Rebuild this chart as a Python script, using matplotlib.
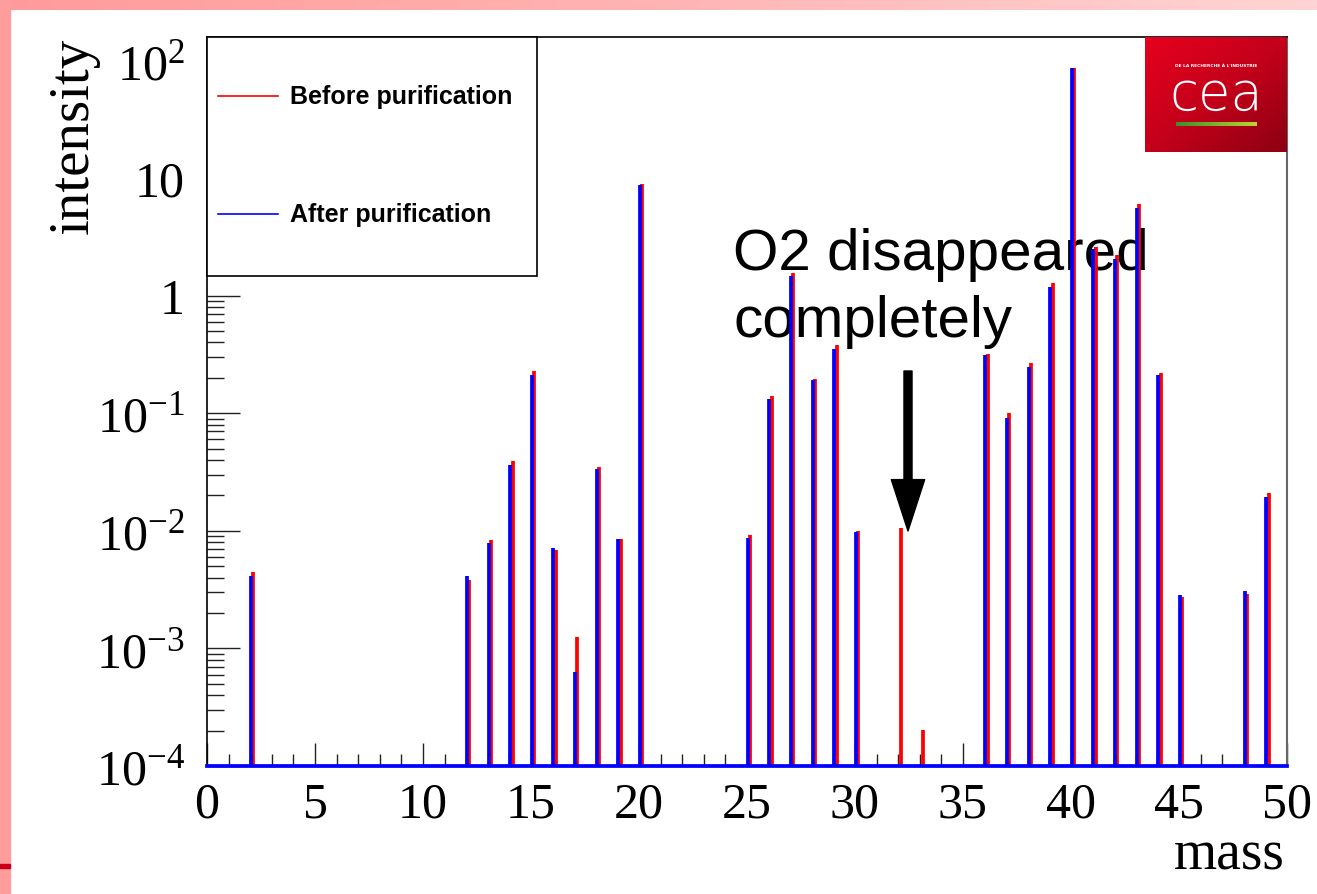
import numpy as np
import matplotlib
matplotlib.use("Agg")
import matplotlib.pyplot as plt
from matplotlib.patches import Rectangle, FancyArrowPatch

# mass spectrum, values
masses = [2, 12, 13, 14, 15, 16, 17, 18, 19, 20,
          25, 26, 27, 28, 29, 30, 32, 33, 36, 37,
          38, 39, 40, 41, 42, 43, 44, 45, 48, 49]
before = [0.0045, 0.0038, 0.0084, 0.039, 0.227, 0.0069, 0.00124, 0.0347, 0.0085, 8.9,
          0.0092, 0.141, 1.57, 0.194, 0.379, 0.0099, 0.0106, 0.000203, 0.32, 0.1006,
          0.269, 1.28, 86.0, 2.6, 2.21, 6.04, 0.221, 0.00272, 0.0029, 0.0208]
after = [0.0041, 0.0041, 0.0079, 0.0363, 0.211, 0.0071, 0.00063, 0.0335, 0.0085, 8.8,
         0.0087, 0.132, 1.46, 0.191, 0.355, 0.0097, 0.0, 0.0, 0.316, 0.0917,
         0.249, 1.19, 86.0, 2.48, 2.04, 5.6, 0.213, 0.00283, 0.00305, 0.0195]

y_ticks = [1e-4, 1e-3, 1e-2, 1e-1, 1, 10, 100]
y_ticklabels = [r"$10^{-4}$", r"$10^{-3}$", r"$10^{-2}$", r"$10^{-1}$", "1", "10", r"$10^{2}$"]
x_ticks = [0, 5, 10, 15, 20, 25, 30, 35, 40, 45, 50]

plt.rcParams["mathtext.fontset"] = "custom"
plt.rcParams["mathtext.rm"] = "Liberation Serif"
plt.rcParams["mathtext.it"] = "Liberation Serif:italic"

W, H = 1317, 895
fig = plt.figure(figsize=(W / 100, H / 100), dpi=100, facecolor="white")

# slide background: pink strips on left and top
bg = fig.add_axes([0, 1 - 11 / H, 1, 11 / H], zorder=-10)
grad = np.linspace(0, 1, 256)[None, :]
bg.imshow(grad, aspect="auto", cmap=matplotlib.colors.LinearSegmentedColormap.from_list(
    "pk", ["#ff9a9a", "#ffb4b4", "#ffd4d4"]), extent=[0, 1, 0, 1])
bg.set_axis_off()
fig.patches.append(Rectangle((0, 0), 10 / W, 1, transform=fig.transFigure,
                             color="#ff9c9c", zorder=-10))
fig.patches.append(Rectangle((0, 1 - 869 / H), 10 / W, 4 / H, transform=fig.transFigure,
                             color="#c8001a", zorder=-9))

x0, x1, y0, y1 = 207, 1287, 38, 767
ax = fig.add_axes([x0 / W, 1 - y1 / H, (x1 - x0) / W, (y1 - y0) / H])
ax.set_yscale("log")
ax.set_xlim(0, 50)
ax.set_ylim(1e-4, 10 ** 2.2)

lw = 2.7
m = np.array(masses, dtype=float)
b = np.array(before)
a = np.array(after)
ax.vlines(m[b > 0] + 0.15, 1e-4, b[b > 0], colors="#ff0000", linewidth=lw,
          capstyle="butt", zorder=3)
ax.vlines(m[a > 0] + 0.04, 1e-4, a[a > 0], colors="#0000ff", linewidth=lw,
          capstyle="butt", zorder=4)
ax.axhline(1e-4, color="#0000ff", linewidth=lw, clip_on=False, zorder=5)

ax.set_yticks(y_ticks)
ax.set_yticklabels(y_ticklabels)
ax.set_xticks(x_ticks)
ax.set_xticks(range(0, 51), minor=True)
ax.yaxis.set_minor_locator(matplotlib.ticker.LogLocator(base=10, subs=np.arange(2, 10), numticks=20))
ax.yaxis.set_minor_formatter(matplotlib.ticker.NullFormatter())
ax.tick_params(axis="both", which="both", direction="in", top=False, right=False,
               color="#222222", width=1)
ax.tick_params(axis="y", which="major", length=24, pad=16)
ax.tick_params(axis="y", which="minor", length=12)
ax.tick_params(axis="x", which="major", length=16.5, pad=11)
ax.tick_params(axis="x", which="minor", length=9)
for lab in ax.get_xticklabels() + ax.get_yticklabels():
    lab.set_fontfamily("Liberation Serif")
    lab.set_fontsize(36)
for s in ["left", "top"]:
    ax.spines[s].set_color("black")
    ax.spines[s].set_linewidth(1.2)
ax.spines["right"].set_color("#666666")
ax.spines["right"].set_linewidth(1.5)
ax.spines["bottom"].set_visible(False)

# axis titles
fig.text(74 / W, 1 - 38 / H, "intensity", rotation=90, ha="center", va="top",
         fontfamily="Liberation Serif", fontsize=41)
fig.text(1285 / W, 1 - 870 / H, "mass", ha="right", va="baseline",
         fontfamily="Liberation Serif", fontsize=40)

# legend box
lx1 = (537 - x0) / (x1 - x0)
ly0 = (y1 - 277) / (y1 - y0)
ax.add_patch(Rectangle((0, ly0), lx1, 1 - ly0, transform=ax.transAxes, facecolor="white",
                       edgecolor="black", linewidth=1.2, zorder=6, clip_on=False))
for yy, col, txt in [(97, "#ff0000", "Before purification"), (215, "#0000ff", "After purification")]:
    fy = (y1 - yy) / (y1 - y0)
    ax.plot([(218 - x0) / (x1 - x0), (278 - x0) / (x1 - x0)], [fy, fy], color=col,
            linewidth=1.2, transform=ax.transAxes, zorder=7, clip_on=False)
    ax.text((290 - x0) / (x1 - x0), fy, txt, transform=ax.transAxes, ha="left", va="center",
            fontfamily="Liberation Sans", fontweight="bold", fontsize=18, zorder=7)

# annotation
ax.text((733 - x0) / (x1 - x0), (y1 - 337) / (y1 - y0), "O2 disappeared\ncompletely",
        transform=ax.transAxes, ha="left", va="baseline", fontfamily="Liberation Sans",
        fontsize=42, linespacing=1.3, zorder=2)
arrow = FancyArrowPatch(((908 - x0) / (x1 - x0), (y1 - 372) / (y1 - y0)),
                        ((908 - x0) / (x1 - x0), (y1 - 532) / (y1 - y0)),
                        transform=ax.transAxes, arrowstyle="simple,head_length=37,head_width=24,tail_width=5.8",
                        mutation_scale=1, color="black", shrinkA=0, shrinkB=0, zorder=6)
ax.add_patch(arrow)

# CEA logo
lg = fig.add_axes([1145 / W, 1 - 153 / H, 142 / W, 115 / H], zorder=8)
gx, gy = np.meshgrid(np.linspace(0, 1, 100), np.linspace(0, 1, 100))
lg.imshow(gx * 0.6 + gy * 0.6, aspect="auto", extent=[0, 1, 0, 1], origin="upper",
          cmap=matplotlib.colors.LinearSegmentedColormap.from_list("rd", ["#e6001e", "#c4001a", "#8c0012"]))
lg.text(0.5, 0.76, "DE LA RECHERCHE À L'INDUSTRIE", color="white", fontsize=3.2,
        fontweight="bold", ha="center", va="center")
lg.text(0.5, 0.50, "cea", color="white", fontsize=38, ha="center", va="center",
        fontfamily="DejaVu Sans", fontweight="light")
lg.imshow(np.linspace(0, 1, 64)[None, :], aspect="auto", extent=[0.22, 0.79, 0.23, 0.26],
          cmap=matplotlib.colors.LinearSegmentedColormap.from_list("gy", ["#3f8f2a", "#b9d532"]))
lg.set_xlim(0, 1)
lg.set_ylim(0, 1)
lg.set_axis_off()

fig.savefig("out.png", dpi=100, facecolor="white")
